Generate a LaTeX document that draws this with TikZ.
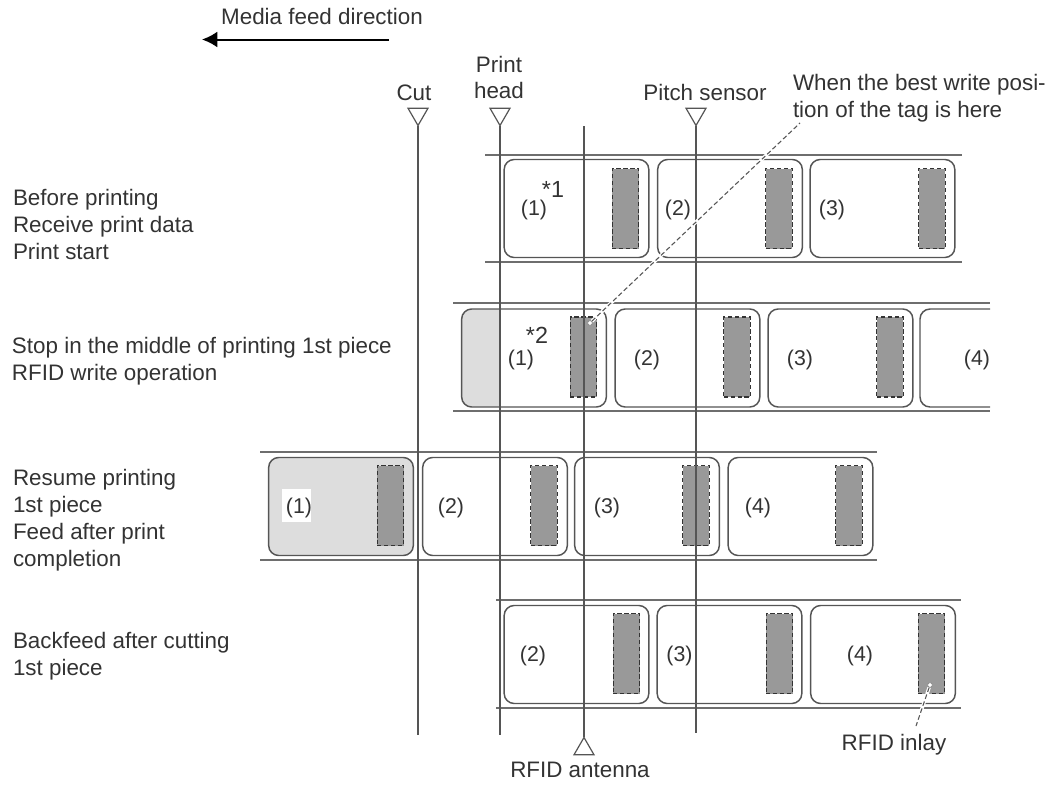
\documentclass[tikz,border=0pt]{standalone}
\usepackage{fontspec}
\setmainfont{Liberation Sans}
\usetikzlibrary{arrows.meta,shapes.geometric}
\definecolor{ink}{HTML}{333333}
\definecolor{line}{HTML}{555555}
\definecolor{inlaygray}{HTML}{999999}
\definecolor{printed}{HTML}{DDDDDD}
\tikzset{
  txt/.style={
    inner sep=0pt, outer sep=0pt, text=ink,
    font=\fontsize{16.8pt}{20.25pt}\selectfont
  },
  note/.style={txt, anchor=west, align=left},
  num/.style={txt, anchor=base, font=\fontsize{16pt}{18pt}\selectfont},
  star/.style={
    inner sep=0pt, anchor=base, text=ink,
    font=\fontsize{17.5pt}{18pt}\selectfont
  },
  piece/.style={
    draw=line, rounded corners=7.5pt, line width=1.1pt,
    minimum width=108.5pt, minimum height=73.5pt, inner sep=0pt
  },
  inlay/.style={
    draw=ink, dash pattern=on 3.2pt off 2pt, fill=inlaygray, line width=0.9pt,
    minimum width=20pt, minimum height=60pt, inner sep=0pt
  },
  strip/.style={draw=line!85, line width=1.2pt},
  sensorline/.style={draw=line, line width=1.2pt},
  marker/.style={
    draw=line, fill=white, line width=0.9pt, inner sep=0pt, outer sep=0pt,
    regular polygon, regular polygon sides=3, minimum size=17.3pt
  },
  leader/.style={
    draw=line, line width=0.8pt, dash pattern=on 3.5pt off 2pt,
    preaction={draw=white, solid, line width=2.6pt}
  },
  dot/.style={circle, draw=line!70, fill=white, line width=0.5pt, minimum size=3.5pt, inner sep=0pt}
}

\begin{document}
\begin{tikzpicture}[x=0.75pt,y=-0.75pt]
  \useasboundingbox (0,0) rectangle (1050,785);

  % row texts
  \node[note] (rowa) at (13,224) {Before printing\\Receive print data\\Print start};
  \node[note] (rowb) at (12,361) {Stop in the middle of printing 1st piece\\RFID write operation};
  \node[note] (rowc) at (13,520) {Resume printing\\1st piece\\Feed after print\\completion};
  \node[note] (rowd) at (13,656) {Backfeed after cutting\\1st piece};

  % feed direction
  \node[txt, anchor=base] (feedtext) at (322,25) {Media feed direction};
  \coordinate (feedfrom) at (389,39.5);
  \coordinate (feedto) at (202,39.5);
  \draw[-{Latex[length=11.5pt,width=12pt]}, line width=1.5pt, draw=black] (feedfrom) -- (feedto);

  % strip 1
  \draw[strip] (485,155) -- (962,155);
  \draw[strip] (485,262) -- (962,262);
  \node[piece] (aone) at (576.5,208.5) {};
  \node[piece] (atwo) at (730,208.5) {};
  \node[piece] (athree) at (882.5,208.5) {};
  \node[inlay] (ainlayone) at (625.5,208.5) {};
  \node[inlay] (ainlaytwo) at (779,208.5) {};
  \node[inlay] (ainlaythree) at (932,208.5) {};
  \node[num] (anumone) at (534,215.5) {(1)};
  \node[num] (anumtwo) at (678,215.5) {(2)};
  \node[num] (anumthree) at (832,215.5) {(3)};
  \node[star] (starone) at (553,197) {*1};

  % strip 2
  \draw[strip] (453,303) -- (990,303);
  \draw[strip] (453,411) -- (990,411);
  \begin{scope}
    \clip (455,300) rectangle (500,415);
    \node[piece, fill=printed, draw=none] (bshade) at (534,358) {};
  \end{scope}
  \node[piece] (bone) at (534,358) {};
  \node[piece] (btwo) at (687.5,358) {};
  \node[piece] (bthree) at (840.5,358) {};
  \draw[draw=line, line width=1.1pt, rounded corners=7.5pt] (990,309) -- (920,309) -- (920,407) -- (990,407);
  \node[inlay] (binlayone) at (583.5,357) {};
  \node[inlay] (binlaytwo) at (737,357) {};
  \node[inlay] (binlaythree) at (890,357) {};
  \node[num] (bnumone) at (521,365) {(1)};
  \node[num] (bnumtwo) at (647,365) {(2)};
  \node[num] (bnumthree) at (800,365) {(3)};
  \node[num] (bnumfour) at (977,365) {(4)};
  \node[star] (startwo) at (537,343) {*2};

  % strip 3
  \draw[strip] (260,452) -- (877,452);
  \draw[strip] (260,560) -- (877,560);
  \node[piece, fill=printed] (cone) at (341,506.5) {};
  \node[piece] (ctwo) at (495,506.5) {};
  \node[piece] (cthree) at (647,506.5) {};
  \node[piece] (cfour) at (800.5,506.5) {};
  \node[inlay] (cinlayone) at (390.5,505.5) {};
  \node[inlay] (cinlaytwo) at (544,505.5) {};
  \node[inlay] (cinlaythree) at (696,505.5) {};
  \node[inlay] (cinlayfour) at (849,505.5) {};
  \node[fill=white, minimum width=21.75pt, minimum height=24.75pt, inner sep=0pt] (cpatch) at (296.5,505.5) {};
  \node[num] (cnumone) at (299,513) {(1)};
  \node[num] (cnumtwo) at (451,513) {(2)};
  \node[num] (cnumthree) at (607,513) {(3)};
  \node[num] (cnumfour) at (758,513) {(4)};

  % strip 4
  \draw[strip] (496,600) -- (961,600);
  \draw[strip] (496,708) -- (961,708);
  \node[piece] (dtwo) at (576.5,654.5) {};
  \node[piece] (dthree) at (729.5,654.5) {};
  \node[piece] (dfour) at (883,654.5) {};
  \node[inlay] (dinlaytwo) at (626.5,653.5) {};
  \node[inlay] (dinlaythree) at (779.5,653.5) {};
  \node[inlay] (dinlayfour) at (931.5,653.5) {};
  \node[num] (dnumtwo) at (533,661) {(2)};
  \node[num] (dnumthree) at (679.5,661) {(3)};
  \node[num] (dnumfour) at (860,661) {(4)};

  % sensors
  \node[txt, anchor=base] (cuttext) at (414,100) {Cut};
  \node[txt, anchor=base, align=center] (headtext) at (499,72) {Print};
  \node[txt, anchor=base] (headtextb) at (499,98) {head};
  \node[txt, anchor=base] (pitchtext) at (705,100) {Pitch sensor};
  \node[txt, anchor=base] (antennatext) at (580,777) {RFID antenna};
  \node[marker, shape border rotate=180] (cuttri) at (418,114) {};
  \node[marker, shape border rotate=180] (headtri) at (500,114) {};
  \node[marker, shape border rotate=180] (pitchtri) at (696,114) {};
  \node[marker] (antennatri) at (584,749) {};
  \coordinate (cutend) at (418,735);
  \coordinate (headend) at (500,735);
  \coordinate (pitchend) at (696,733);
  \coordinate (antennaend) at (584,126);
  \draw[sensorline] (cuttri.corner 1) -- (cutend);
  \draw[sensorline] (headtri.corner 1) -- (headend);
  \draw[sensorline] (pitchtri.corner 1) -- (pitchend);
  \draw[draw=line, line width=0.85pt] (antennatri.corner 1) -- (antennaend);

  % callouts
  \node[txt, anchor=base west] (besttext) at (793,117) {tion of the tag is here};
  \node[txt, anchor=base west] (besttextb) at (793,90) {When the best write posi-};
  \node[dot] (bestdot) at (590,323) {};
  \coordinate (bestend) at (800,123);
  \draw[leader] (bestdot) -- (bestend);
  \node[txt, anchor=base] (inlaytext) at (894,750) {RFID inlay};
  \node[dot] (inlaydot) at (930,685) {};
  \coordinate (inlayend) at (916,726);
  \draw[leader] (inlaydot) -- (inlayend);
\end{tikzpicture}
\end{document}
